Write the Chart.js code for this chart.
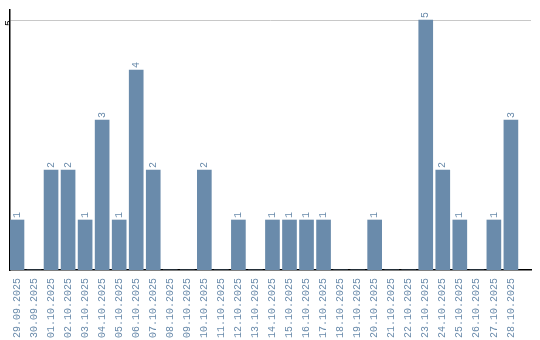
<!DOCTYPE html>
<html lang="en">
<head>
<meta charset="UTF-8">
<title>Daily count</title>
<script src="https://cdn.jsdelivr.net/npm/chart.js"></script>
<style>
    body { margin: 0; background: #fff; }
    .wrap { width: 540px; height: 340px; }
</style>
</head>
<body>
<div class="wrap"><canvas id="chart" width="540" height="340"></canvas></div>
<script>
const dates = [
    '29.09.2025', '30.09.2025', '01.10.2025', '02.10.2025', '03.10.2025',
    '04.10.2025', '05.10.2025', '06.10.2025', '07.10.2025', '08.10.2025',
    '09.10.2025', '10.10.2025', '11.10.2025', '12.10.2025', '13.10.2025',
    '14.10.2025', '15.10.2025', '16.10.2025', '17.10.2025', '18.10.2025',
    '19.10.2025', '20.10.2025', '21.10.2025', '22.10.2025', '23.10.2025',
    '24.10.2025', '25.10.2025', '26.10.2025', '27.10.2025', '28.10.2025'
];
const counts = [1, 0, 2, 2, 1, 3, 1, 4, 2, 0, 0, 2, 0, 1, 0, 1, 1, 1, 1, 0, 0, 1, 0, 0, 5, 2, 1, 0, 1, 3];
const yTicks = [5];

const barColor = '#6a8bab';
const monoFamily = '"Liberation Mono", "DejaVu Sans Mono", monospace';

// value labels above bars, rotated like the axis labels
const valueLabels = {
    id: 'valueLabels',
    afterDatasetsDraw(chart) {
        const ctx = chart.ctx;
        const meta = chart.getDatasetMeta(0);
        ctx.save();
        ctx.font = '10px ' + monoFamily;
        ctx.fillStyle = barColor;
        ctx.textAlign = 'left';
        ctx.textBaseline = 'middle';
        meta.data.forEach((bar, i) => {
            const v = counts[i];
            if (!v) return;
            ctx.save();
            ctx.translate(bar.x, bar.y - 2);
            ctx.rotate(-Math.PI / 2);
            ctx.fillText(String(v), 0, 0);
            ctx.restore();
        });
        ctx.restore();
    }
};

new Chart(document.getElementById('chart'), {
    type: 'bar',
    data: {
        datasets: [{
            data: counts.map((v, i) => ({ x: i, y: v })),
            backgroundColor: barColor,
            barThickness: 14
        }]
    },
    options: {
        responsive: false,
        animation: false,
        layout: { padding: { top: 10, right: 9, left: 0, bottom: 0 } },
        plugins: { legend: { display: false }, tooltip: { enabled: false } },
        scales: {
            x: {
                type: 'linear',
                offset: false,
                min: -0.41,
                max: 30.18,
                afterBuildTicks: s => { s.ticks = dates.map((_, i) => ({ value: i })); },
                afterFit: s => { s.height = 70; },
                grid: { display: false },
                border: { color: '#000', width: 1.5 },
                ticks: {
                    minRotation: 90,
                    maxRotation: 90,
                    autoSkip: false,
                    padding: 0,
                    color: barColor,
                    font: { family: monoFamily, size: 10 },
                    callback: v => dates[v]
                }
            },
            y: {
                min: 0,
                max: 5.2,
                afterBuildTicks: s => { s.ticks = yTicks.map(v => ({ value: v })); },
                afterFit: s => { s.width = 10; },
                grid: { color: '#c8c8c8', lineWidth: 1, drawTicks: false },
                border: { color: '#000', width: 1.5 },
                ticks: {
                    minRotation: 90,
                    maxRotation: 90,
                    padding: 1,
                    color: '#000',
                    font: { family: monoFamily, size: 10 }
                }
            }
        }
    },
    plugins: [valueLabels]
});
</script>
</body>
</html>
